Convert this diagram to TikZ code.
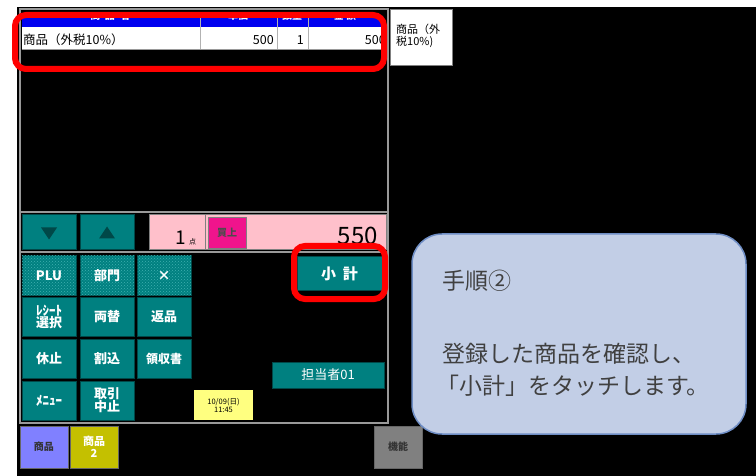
\documentclass[tikz,border=0pt]{standalone}
\usepackage{fontspec}
\newfontfamily\cjk{Noto Sans CJK JP}
\usetikzlibrary{patterns,calc}
\definecolor{tealb}{HTML}{008080}
\definecolor{tealbd}{HTML}{004848}
\definecolor{tealhi}{HTML}{40B0B0}
\definecolor{pinkbg}{HTML}{FFC0CB}
\definecolor{magbtn}{HTML}{F0148C}
\definecolor{calloutfill}{HTML}{C2CEE6}
\definecolor{calloutdraw}{HTML}{6E8DC4}
\definecolor{txtgray}{HTML}{404040}
\definecolor{hdrblue}{HTML}{0000F0}
\definecolor{purplebtn}{HTML}{8080FF}
\definecolor{olivebtn}{HTML}{C4C000}
\definecolor{datebg}{HTML}{FFFF80}
\tikzset{
  btn/.style={draw=tealbd, line width=1pt, fill=tealb, text=white, inner sep=0pt,
    minimum width=54pt, minimum height=39pt, align=center,
    font=\cjk\bfseries\fontsize{13}{14}\selectfont},
  chk/.style={btn, postaction={pattern=crosshatch dots, pattern color=tealhi}},
  arrowbtn/.style={btn, minimum height=35pt},
  redbox/.style={draw=red, line width=6pt, rounded corners=11pt},
  botbtn/.style={draw=black!60, line width=1pt, inner sep=0pt, minimum width=48pt,
    minimum height=42pt, align=center, font=\cjk\bfseries\fontsize{10}{11}\selectfont},
  celltxt/.style={inner sep=0pt, font=\cjk\fontsize{12.5}{14}\selectfont},
  calltxt/.style={anchor=base west, inner sep=0pt, text=txtgray, font=\cjk\fontsize{23}{23}\selectfont}
}
\begin{document}
\begin{tikzpicture}[x=1pt,y=-1pt]
\useasboundingbox (0,0) rectangle (756,476);
\fill[white] (0,0) rectangle (756,476);
\fill[black] (17,7) rectangle (756,476);
% main panel
\draw[gray!80, line width=2pt] (20,9) rectangle (388,423);
% header bar
\fill[hdrblue] (22,18) rectangle (383,27);
\begin{scope}
\clip (22,18) rectangle (383,27);
\node[text=white, font=\cjk\bfseries\fontsize{10}{10}\selectfont, inner sep=0pt] (h1) at (110,16) {商\ \ 品\ \ 名};
\node[text=white, font=\cjk\bfseries\fontsize{10}{10}\selectfont, inner sep=0pt] (h2) at (238,16) {単価};
\node[text=white, font=\cjk\bfseries\fontsize{10}{10}\selectfont, inner sep=0pt] (h3) at (292,16) {数量};
\node[text=white, font=\cjk\bfseries\fontsize{10}{10}\selectfont, inner sep=0pt] (h4) at (345,16) {金\ 額};
\end{scope}
\fill[white] (22,27) rectangle (383,50);
\draw[gray!60, line width=1pt] (200,18) -- (200,50) (277,18) -- (277,50) (308,18) -- (308,50);
\draw[gray!80, line width=1pt] (22,50) -- (383,50);
\node[celltxt, anchor=west] (r1) at (23,40) {商品（外税10\%）};
\node[celltxt, anchor=east] (r2) at (274,40) {500};
\node[celltxt, anchor=east] (r3) at (304,40) {1};
\begin{scope}
\clip (308,27) rectangle (383,50);
\node[celltxt, anchor=east] (r4) at (386,40) {500};
\end{scope}
% right white box
\node[draw=gray, line width=1pt, fill=white, minimum width=62pt, minimum height=56pt, inner sep=0pt] (side) at (421,38) {};
\node[anchor=north west, inner sep=0pt, align=left, font=\cjk\fontsize{11}{11.5}\selectfont] (sidetxt) at (396,24) {商品（外\\税10\%)};
% red highlight around list
\draw[redbox] (15,15) rectangle (384,69);
% separators
\draw[gray!80, line width=2pt] (20,212) -- (388,212);
\draw[gray!80, line width=2pt] (20,252) -- (388,252);
% arrow buttons
\node[arrowbtn] (down) at (49,232.5) {};
\node[arrowbtn] (up) at (107,232.5) {};
\fill[tealbd] ($(down)+(-8,-5)$) -- ($(down)+(8,-5)$) -- ($(down)+(0,7)$) -- cycle;
\fill[tealbd] ($(up)+(-8,6)$) -- ($(up)+(8,6)$) -- ($(up)+(0,-6)$) -- cycle;
% pink display
\node[draw=gray, line width=1pt, fill=pinkbg, minimum width=56pt, minimum height=35pt, inner sep=0pt] (cnt) at (177,232.5) {};
\node[draw=gray, line width=1pt, fill=pinkbg, minimum width=181pt, minimum height=35pt, inner sep=0pt] (tot) at (296,232.5) {};
\node[font=\cjk\fontsize{19}{19}\selectfont, inner sep=0pt, anchor=base east] (one) at (186,245) {1};
\node[font=\cjk\fontsize{7}{7}\selectfont, inner sep=0pt, anchor=base west] (ten) at (189,245) {点};
\node[draw=black!50, fill=magbtn, minimum width=38pt, minimum height=31pt, inner sep=0pt, font=\cjk\bfseries\fontsize{10}{10}\selectfont, text=black!70] (kaiage) at (227,232.5) {買上};
\node[font=\cjk\fontsize{24}{24}\selectfont, inner sep=0pt, anchor=base east] (amt) at (378,244) {550};
% grid buttons
\node[chk] (plu) at (49,275.5) {PLU};
\node[chk] (bumon) at (107,275.5) {部門};
\node[chk] (times) at (164,275.5) {×};
\node[btn, font=\cjk\bfseries\fontsize{13}{12}\selectfont] (receipt) at (49,316.5) {ﾚｼｰﾄ\\選択};
\node[btn] (ryogae) at (107,316.5) {両替};
\node[btn] (henpin) at (164,316.5) {返品};
\node[btn] (kyushi) at (49,358.5) {休止};
\node[btn] (warikomi) at (107,358.5) {割込};
\node[btn, font=\cjk\bfseries\fontsize{12}{13}\selectfont] (ryoshu) at (164,358.5) {領収書};
\node[btn] (menu) at (49,400.5) {ﾒﾆｭｰ};
\node[btn, font=\cjk\bfseries\fontsize{13}{13}\selectfont] (torihiki) at (107,400.5) {取引\\中止};
% subtotal
\node[btn, minimum width=85pt, minimum height=34pt, font=\cjk\bfseries\fontsize{15}{15}\selectfont] (shokei) at (339.5,273.5) {小\ \ 計};
\draw[redbox] (294,246) rectangle (385,299);
% staff
\node[btn, minimum width=112pt, minimum height=26pt, font=\cjk\fontsize{13}{13}\selectfont] (tanto) at (328,375) {担当者01};
% date
\node[fill=datebg, minimum width=59pt, minimum height=30pt, inner sep=0pt, align=center, font=\cjk\fontsize{7.5}{8}\selectfont] (date) at (223.5,405) {10/09(日)\\11:45};
% bottom buttons
\node[botbtn, fill=purplebtn, text=black!80] (shohin) at (44,447) {商品};
\node[botbtn, fill=olivebtn, text=white, font=\cjk\bfseries\fontsize{11}{12}\selectfont] (shohin2) at (94,447) {商品\\2};
\node[botbtn, fill=gray, text=black!80] (kino) at (398,447) {機能};
% callout
\draw[fill=calloutfill, draw=calloutdraw, line width=1.5pt, rounded corners=30pt] (412,234) rectangle (746,434);
\node[calltxt] (t1) at (442,290) {手順②};
\node[calltxt] (t2) at (442,362) {登録した商品を確認し、};
\node[calltxt] (t3) at (436,394) {「小計」をタッチします。};
\end{tikzpicture}
\end{document}
